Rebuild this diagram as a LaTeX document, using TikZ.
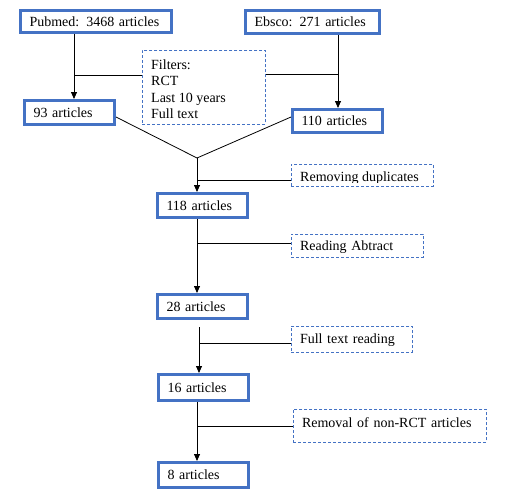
\documentclass[tikz,border=0pt]{standalone}
\usepackage{fontspec}
\setmainfont{Liberation Serif}
\usetikzlibrary{arrows.meta}
\definecolor{boxblue}{HTML}{4472C4}
\begin{document}
\begin{tikzpicture}[x=1pt,y=-1pt,
  txt/.style={font=\fontsize{14}{16.3}\selectfont},
  bluebox/.style={txt, draw=boxblue, line width=3pt, inner xsep=9pt, inner ysep=0pt, align=left, anchor=west, text width=72pt},
  dbox/.style={txt, draw=boxblue, line width=0.8pt, dash pattern=on 3pt off 2pt, inner xsep=8.6pt, inner ysep=0pt, align=left, anchor=north west, text height=10pt},
  conn/.style={line width=0.8pt, draw=black},
  arr/.style={conn, -{Triangle[length=7pt,width=6pt]}}]
\useasboundingbox (0,0) rectangle (509,501);
% blue boxes
\node[bluebox, text width=133pt, minimum height=22pt] (pub) at (19,21.5) {Pubmed: 3468 articles};
\node[bluebox, text width=116pt, minimum height=23pt] (eb) at (244,22) {Ebsco: 271 articles};
\node[bluebox, minimum height=24pt] (n93) at (23,112.5) {93 articles};
\node[bluebox, minimum height=23pt] (n110) at (291,121) {110 articles};
\node[bluebox, minimum height=24pt] (n118) at (156,205.5) {118 articles};
\node[bluebox, minimum height=24pt] (n28) at (156,306.5) {28 articles};
\node[bluebox, minimum height=26pt] (n16) at (157,387.5) {16 articles};
\node[bluebox, minimum height=25pt] (n8) at (157,475) {8 articles};
% dashed boxes
\node[dbox, minimum width=123pt, minimum height=74pt] (filt) at (142,50) {};
\node[txt, anchor=north west, inner sep=0pt, align=left] (filtt) at (151,59.5) {Filters:\\RCT\\Last 10 years\\Full text};
\node[dbox, minimum width=142pt, minimum height=22pt, text width=124.8pt] (rd) at (291,164) {};
\begin{scope}
  \clip (rd.north west) rectangle (rd.east |- 0,182.5);
  \node[txt, anchor=base west, inner sep=0pt] (rdt) at (300,181.5) {Removing duplicates};
\end{scope}
\node[dbox, minimum width=132pt, minimum height=23pt, text width=114.8pt, text depth=0pt] (ra) at (291,234) {Reading Abtract};
\node[dbox, minimum width=121pt, minimum height=26pt, text width=103.8pt, text depth=1.4pt] (ft) at (291,326) {Full text reading};
\node[dbox, minimum width=193pt, minimum height=33pt, text width=175.8pt, text depth=7.6pt] (rm) at (293,409) {Removal of non-RCT articles};
% connectors
\coordinate (pubx) at (74,0);
\draw[arr] (pub.south -| pubx) -- (n93.north -| pubx);
\coordinate (fl) at (74,75);
\draw[conn] (fl) -- (fl -| filt.west);
\coordinate (fr) at (338,74);
\draw[conn] (fr -| filt.east) -- (fr);
\draw[arr] (eb.south -| fr) -- (n110.north -| fr);
\coordinate (apex) at (197,158);
\draw[conn] ([yshift=-4.5pt]n93.east) -- (apex) -- ([yshift=4pt]n110.west);
\draw[arr] (apex) -- (n118.north -| apex);
\coordinate (h1) at (197,180);
\draw[conn] (h1) -- (h1 -| rd.west);
\draw[arr] (n118.south -| apex) -- (n28.north -| apex);
\coordinate (h2) at (197,243);
\draw[conn] (h2) -- (h2 -| ra.west);
\coordinate (v3) at (199,327);
\draw[arr] (v3) -- (n16.north -| v3);
\coordinate (h3) at (199,343);
\draw[conn] (h3) -- (h3 -| ft.west);
\coordinate (v4) at (197,0);
\draw[arr] (n16.south -| v4) -- (n8.north -| v4);
\coordinate (h4) at (197,426);
\draw[conn] (h4) -- (h4 -| rm.west);
\end{tikzpicture}
\end{document}
